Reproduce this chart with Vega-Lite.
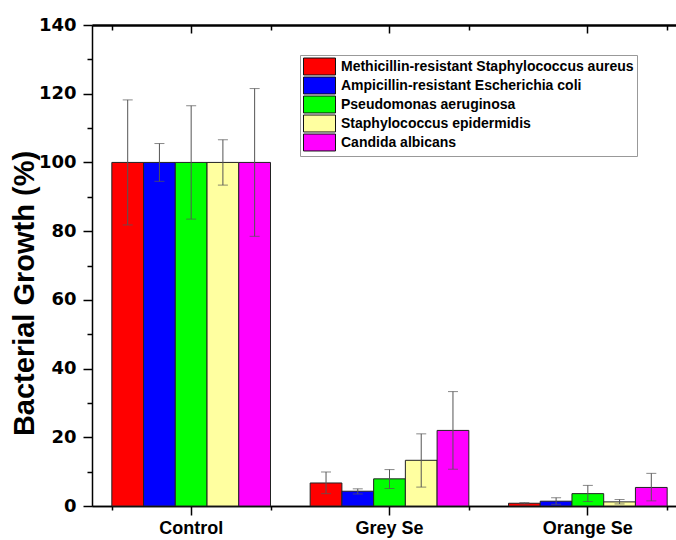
{
  "$schema": "https://vega.github.io/schema/vega-lite/v6.json",
  "width": 584,
  "height": 481,
  "autosize": {"type": "none"},
  "padding": {"left": 92, "top": 25, "right": 0, "bottom": 34},
  "background": "white",
  "config": {
    "view": {"stroke": null},
    "font": "Liberation Sans",
    "axis": {"domainColor": "black", "tickColor": "black", "labelColor": "black", "titleColor": "black", "grid": false}
  },
  "data": {
    "values": [
      {"group": "Control", "series": "Methicillin-resistant Staphylococcus aureus", "v": 100, "lo": 81.8, "hi": 118.2},
      {"group": "Control", "series": "Ampicillin-resistant Escherichia coli", "v": 100, "lo": 94.5, "hi": 105.5},
      {"group": "Control", "series": "Pseudomonas aeruginosa", "v": 100, "lo": 83.5, "hi": 116.5},
      {"group": "Control", "series": "Staphylococcus epidermidis", "v": 100, "lo": 93.4, "hi": 106.6},
      {"group": "Control", "series": "Candida albicans", "v": 100, "lo": 78.5, "hi": 121.5},
      {"group": "Grey Se", "series": "Methicillin-resistant Staphylococcus aureus", "v": 6.7, "lo": 3.6, "hi": 9.9},
      {"group": "Grey Se", "series": "Ampicillin-resistant Escherichia coli", "v": 4.3, "lo": 3.5, "hi": 5.0},
      {"group": "Grey Se", "series": "Pseudomonas aeruginosa", "v": 7.9, "lo": 5.1, "hi": 10.6},
      {"group": "Grey Se", "series": "Staphylococcus epidermidis", "v": 13.3, "lo": 5.5, "hi": 21.0},
      {"group": "Grey Se", "series": "Candida albicans", "v": 22.0, "lo": 10.7, "hi": 33.3},
      {"group": "Orange Se", "series": "Methicillin-resistant Staphylococcus aureus", "v": 0.8, "lo": 0.6, "hi": 1.0},
      {"group": "Orange Se", "series": "Ampicillin-resistant Escherichia coli", "v": 1.4, "lo": 0.5, "hi": 2.4},
      {"group": "Orange Se", "series": "Pseudomonas aeruginosa", "v": 3.6, "lo": 1.3, "hi": 6.0},
      {"group": "Orange Se", "series": "Staphylococcus epidermidis", "v": 1.2, "lo": 0.6, "hi": 1.9},
      {"group": "Orange Se", "series": "Candida albicans", "v": 5.4, "lo": 1.5, "hi": 9.5}
    ]
  },
  "resolve": {"axis": {"x": "independent", "y": "independent"}},
  "layer": [
    {
      "mark": {"type": "bar", "stroke": "#222", "strokeWidth": 1},
      "encoding": {
        "x": {
          "field": "group", "type": "nominal", "sort": ["Control", "Grey Se", "Orange Se"],
          "scale": {"range": [0, 595], "paddingInner": 0.2, "paddingOuter": 0.1},
          "axis": {"orient": "bottom", "title": null, "labelAngle": 0, "labelFontSize": 18, "labelFontWeight": "bold", "labelPadding": 4, "tickSize": 9, "tickWidth": 1.5, "domainWidth": 1.5}
        },
        "xOffset": {
          "field": "series", "type": "nominal",
          "sort": ["Methicillin-resistant Staphylococcus aureus", "Ampicillin-resistant Escherichia coli", "Pseudomonas aeruginosa", "Staphylococcus epidermidis", "Candida albicans"],
          "scale": {"paddingInner": 0, "paddingOuter": 0}
        },
        "y": {
          "field": "v", "type": "quantitative",
          "scale": {"domain": [0, 140], "nice": false},
          "axis": {
            "orient": "left",
            "values": [0, 10, 20, 30, 40, 50, 60, 70, 80, 90, 100, 110, 120, 130, 140],
            "labelExpr": "datum.value % 20 === 0 ? datum.label : ''",
            "tickSize": {"condition": {"test": "datum.value % 20 === 0", "value": 9}, "value": 5},
            "tickWidth": 1.5, "domainWidth": 1.5,
            "labelFont": "DejaVu Sans", "labelFontSize": 18, "labelFontWeight": "bold", "labelPadding": 7,
            "title": "Bacterial Growth (%)", "titleFontSize": 29, "titleFontWeight": "bold",
            "titleX": -68, "titleY": 268, "titleAngle": -90, "titleAlign": "center", "titleBaseline": "middle"
          }
        },
        "color": {
          "field": "series", "type": "nominal",
          "sort": ["Methicillin-resistant Staphylococcus aureus", "Ampicillin-resistant Escherichia coli", "Pseudomonas aeruginosa", "Staphylococcus epidermidis", "Candida albicans"],
          "scale": {
            "domain": ["Methicillin-resistant Staphylococcus aureus", "Ampicillin-resistant Escherichia coli", "Pseudomonas aeruginosa", "Staphylococcus epidermidis", "Candida albicans"],
            "range": ["#FF0000", "#0000FF", "#00FF00", "#FFFFA0", "#FF00FF"]
          },
          "legend": {
            "title": null, "orient": "none", "legendX": 208, "legendY": 30,
            "symbolType": "M-1,-1.06H3V1.06H-1Z", "symbolSize": 256,
            "symbolStrokeColor": "#111", "symbolStrokeWidth": 1, "symbolOpacity": 1,
            "labelFontSize": 14, "labelFontWeight": "bold", "labelColor": "black",
            "labelOffset": 21, "rowPadding": -2.8, "padding": 3,
            "strokeColor": "#999", "fillColor": "white", "labelLimit": 400
          }
        }
      }
    },
    {
      "mark": {"type": "rule", "color": "#555", "strokeWidth": 1},
      "encoding": {
        "x": {
          "field": "group", "type": "nominal", "sort": ["Control", "Grey Se", "Orange Se"],
          "axis": {"orient": "bottom", "title": null, "labels": false, "tickBand": "extent", "tickSize": 4, "tickWidth": 1.5, "domainWidth": 1.5}
        },
        "xOffset": {
          "field": "series", "type": "nominal",
          "sort": ["Methicillin-resistant Staphylococcus aureus", "Ampicillin-resistant Escherichia coli", "Pseudomonas aeruginosa", "Staphylococcus epidermidis", "Candida albicans"]
        },
        "y": {"field": "lo", "type": "quantitative", "axis": null},
        "y2": {"field": "hi"}
      }
    },
    {
      "mark": {"type": "tick", "color": "#555", "thickness": 1, "size": 10},
      "encoding": {
        "x": {
          "field": "group", "type": "nominal", "sort": ["Control", "Grey Se", "Orange Se"],
          "axis": {"orient": "top", "title": null, "labels": false, "tickSize": -8, "tickWidth": 1.5, "domainWidth": 2}
        },
        "xOffset": {
          "field": "series", "type": "nominal",
          "sort": ["Methicillin-resistant Staphylococcus aureus", "Ampicillin-resistant Escherichia coli", "Pseudomonas aeruginosa", "Staphylococcus epidermidis", "Candida albicans"]
        },
        "y": {"field": "hi", "type": "quantitative", "axis": null}
      }
    },
    {
      "mark": {"type": "tick", "color": "#555", "thickness": 1, "size": 10},
      "encoding": {
        "x": {
          "field": "group", "type": "nominal", "sort": ["Control", "Grey Se", "Orange Se"],
          "axis": {"orient": "top", "title": null, "labels": false, "tickBand": "extent", "tickSize": -5, "tickWidth": 1.5, "domainWidth": 2}
        },
        "xOffset": {
          "field": "series", "type": "nominal",
          "sort": ["Methicillin-resistant Staphylococcus aureus", "Ampicillin-resistant Escherichia coli", "Pseudomonas aeruginosa", "Staphylococcus epidermidis", "Candida albicans"]
        },
        "y": {"field": "lo", "type": "quantitative", "axis": null}
      }
    }
  ]
}
